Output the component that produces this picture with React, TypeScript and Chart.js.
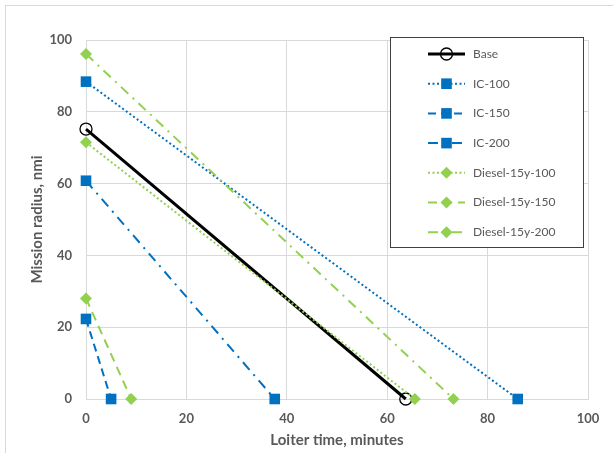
import React, { useEffect, useRef } from 'react';
import { Chart, registerables } from 'chart.js';

Chart.register(...registerables);

// ---- data ----
const seriesNames = ['Base', 'IC-100', 'IC-150', 'IC-200', 'Diesel-15y-100', 'Diesel-15y-150', 'Diesel-15y-200'];
const loiterStart = [0, 0, 0, 0, 0, 0, 0];
const loiterEnd = [63.7, 86, 5, 37.6, 65.5, 9, 73.2];
const radiusStart = [75.2, 88.4, 22.3, 60.8, 71.5, 28, 96.1];
const radiusEnd = [0, 0, 0, 0, 0, 0, 0];
const xTicks = [0, 20, 40, 60, 80, 100];
const yTicks = [0, 20, 40, 60, 80, 100];

// ---- styles ----
const seriesColors = ['#000000', '#0070C0', '#0070C0', '#0070C0', '#92D050', '#92D050', '#92D050'];
const seriesWidths = [3, 2, 2, 2, 2, 2, 2];
const seriesDashes: number[][] = [[], [2, 2.5], [8, 5], [10, 6, 2, 6], [2, 2.5], [9, 6], [10, 6, 2, 6]];
const seriesMarkers = ['circle', 'rect', 'rect', 'rect', 'rectRot', 'rectRot', 'rectRot'];
const markerRadius = [6, 7.5, 7.5, 7.5, 6, 6, 6];

const GRID = '#d9d9d9';
const TEXT = '#595959';
const FONT = 'Lato, "Liberation Sans", sans-serif';

function drawMarker(ctx: CanvasRenderingContext2D, kind: string, x: number, y: number, r: number, color: string) {
  ctx.save();
  ctx.setLineDash([]);
  ctx.beginPath();
  if (kind === 'circle') {
    ctx.arc(x, y, r, 0, Math.PI * 2);
    ctx.lineWidth = 1.3;
    ctx.strokeStyle = color;
    ctx.stroke();
  } else if (kind === 'rect') {
    const s = Math.SQRT1_2 * r;
    ctx.rect(x - s, y - s, 2 * s, 2 * s);
    ctx.fillStyle = color;
    ctx.fill();
  } else {
    ctx.moveTo(x - r, y);
    ctx.lineTo(x, y - r);
    ctx.lineTo(x + r, y);
    ctx.lineTo(x, y + r);
    ctx.closePath();
    ctx.fillStyle = color;
    ctx.fill();
  }
  ctx.restore();
}

const legendPlugin = {
  id: 'boxLegend',
  afterDraw(chart: any) {
    const { ctx, chartArea } = chart;
    const boxW = 193;
    const boxH = 210;
    const left = chartArea.right - 198;
    const top = chartArea.top - 3;
    ctx.save();
    ctx.fillStyle = '#ffffff';
    ctx.fillRect(left, top, boxW, boxH);
    ctx.strokeStyle = '#404040';
    ctx.lineWidth = 1;
    ctx.strokeRect(left + 0.5, top + 0.5, boxW, boxH);
    ctx.font = `12px ${FONT}`;
    ctx.textBaseline = 'middle';
    ctx.textAlign = 'left';
    seriesNames.forEach((name, i) => {
      const y = top + 17 + i * 29.7;
      const x0 = left + 38;
      const x1 = left + 75;
      ctx.save();
      ctx.strokeStyle = seriesColors[i];
      ctx.lineWidth = seriesWidths[i];
      ctx.setLineDash(seriesDashes[i]);
      ctx.beginPath();
      ctx.moveTo(x0, y);
      ctx.lineTo(x1, y);
      ctx.stroke();
      ctx.restore();
      drawMarker(ctx, seriesMarkers[i], (x0 + x1) / 2, y, markerRadius[i], seriesColors[i]);
      ctx.fillStyle = TEXT;
      ctx.fillText(name, left + 83, y);
    });
    ctx.restore();
  },
};

export default function App() {
  const canvasRef = useRef<HTMLCanvasElement>(null);

  useEffect(() => {
    if (!canvasRef.current) return;
    const datasets = seriesNames.map((name, i) => ({
      label: name,
      data: [
        { x: loiterStart[i], y: radiusStart[i] },
        { x: loiterEnd[i], y: radiusEnd[i] },
      ],
      showLine: true,
      borderColor: seriesColors[i],
      backgroundColor: seriesMarkers[i] === 'circle' ? 'rgba(0,0,0,0)' : seriesColors[i],
      borderWidth: seriesWidths[i],
      borderDash: seriesDashes[i],
      pointStyle: seriesMarkers[i],
      pointRadius: markerRadius[i],
      pointBorderWidth: seriesMarkers[i] === 'circle' ? 1.3 : 0,
      pointBorderColor: seriesColors[i],
      clip: false as any,
      order: seriesNames.length - i,
    }));

    const chart = new Chart(canvasRef.current, {
      type: 'scatter',
      data: { datasets },
      plugins: [legendPlugin],
      options: {
        animation: false,
        responsive: true,
        maintainAspectRatio: false,
        layout: { padding: { top: 34, right: 31, left: 0, bottom: 0 } },
        plugins: { legend: { display: false }, tooltip: { enabled: false } },
        scales: {
          x: {
            type: 'linear',
            min: xTicks[0],
            max: xTicks[xTicks.length - 1],
            afterBuildTicks: (scale: any) => {
              scale.ticks = xTicks.map((v) => ({ value: v }));
            },
            afterFit: (scale: any) => {
              scale.height = 60;
            },
            grid: { color: GRID, lineWidth: 1, drawTicks: false },
            border: { color: GRID, width: 1 },
            ticks: {
              padding: 12,
              color: TEXT,
              font: { family: FONT, size: 13, weight: 'bold' },
            },
            title: {
              display: true,
              text: 'Loiter time, minutes',
              color: TEXT,
              font: { family: FONT, size: 15, weight: 'bold' },
              padding: { top: 0, bottom: 10 },
            },
          },
          y: {
            type: 'linear',
            min: yTicks[0],
            max: yTicks[yTicks.length - 1],
            afterBuildTicks: (scale: any) => {
              scale.ticks = yTicks.map((v) => ({ value: v }));
            },
            afterFit: (scale: any) => {
              scale.width = 80;
            },
            grid: { color: GRID, lineWidth: 1, drawTicks: false },
            border: { color: GRID, width: 1 },
            ticks: {
              padding: 14,
              color: TEXT,
              font: { family: FONT, size: 13, weight: 'bold' },
            },
            title: {
              display: true,
              text: 'Mission radius, nmi',
              color: TEXT,
              font: { family: FONT, size: 15, weight: 'bold' },
              padding: { top: 22, bottom: 0 },
            },
          },
        },
      },
    });
    return () => chart.destroy();
  }, []);

  return (
    <div
      style={{
        position: 'absolute',
        left: 5,
        top: 5,
        width: 615,
        height: 455,
        boxSizing: 'border-box',
        border: '1px solid #d9d9d9',
        background: '#ffffff',
      }}
    >
      <div style={{ position: 'relative', width: 613, height: 453 }}>
        <canvas ref={canvasRef} />
      </div>
    </div>
  );
}
